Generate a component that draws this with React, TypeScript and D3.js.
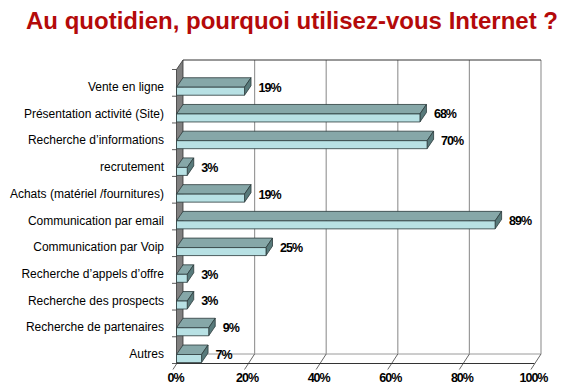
import React from 'react'
import * as d3 from 'd3'

const title = 'Au quotidien, pourquoi utilisez-vous Internet ?'
const categories = [
	'Vente en ligne',
	'Présentation activité (Site)',
	'Recherche d’informations',
	'recrutement',
	'Achats (matériel /fournitures)',
	'Communication par email',
	'Communication par Voip',
	'Recherche d’appels d’offre',
	'Recherche des prospects',
	'Recherche de partenaires',
	'Autres',
]
const values = [19, 68, 70, 3, 19, 89, 25, 3, 3, 9, 7]
const ticks = [0, 20, 40, 60, 80, 100]

const W = 568
const H = 386
// décalage de profondeur (3D)
const dx = 6.5
const dy = 9.5
const front = { left: 176.5, right: 534.5, top: 69.5, bottom: 363.5 }

export default function App() {
	const x = d3.scaleLinear().domain([0, 100]).range([front.left, front.right])
	const y = d3.scaleBand().domain(categories).range([front.top, front.bottom]).padding(0)
	const font = 'Arial, "Liberation Sans", sans-serif'

	const backTop = front.top - dy
	const backBottom = front.bottom - dy

	return (
		<svg width={W} height={H} style={{ position: 'absolute', left: 0, top: 0, background: '#fff' }}>
			<text x={292} y={29} textAnchor="middle" fontFamily={font} fontWeight="bold" fontSize={24} fill="#b40a0a">
				{title}
			</text>

			{/* mur du fond */}
			<rect x={x(0) + dx} y={backTop} width={x(100) - x(0)} height={backBottom - backTop} fill="#fff" />
			{ticks.slice(1).map(t => (
				<line key={t} x1={x(t) + dx} x2={x(t) + dx} y1={backTop} y2={backBottom} stroke="#9a9a9a" strokeWidth={1.2} />
			))}
			<line x1={x(0) + dx} x2={x(100) + dx} y1={backTop} y2={backTop} stroke="#333" strokeWidth={1} />

			{/* sol */}
			<path d={`M${x(0)},${front.bottom}L${x(0) + dx},${backBottom}L${x(100) + dx},${backBottom}L${x(100)},${front.bottom}Z`} fill="#fff" />
			<line x1={x(0) + dx} x2={x(100) + dx} y1={backBottom} y2={backBottom} stroke="#9a9a9a" strokeWidth={1} />
			{ticks.map(t => (
				<line key={t} x1={x(t) + dx} y1={backBottom} x2={x(t) - dx * 0.55} y2={front.bottom + 6} stroke="#555" strokeWidth={0.9} />
			))}
			<line x1={x(0)} x2={x(100)} y1={front.bottom} y2={front.bottom} stroke="#333" strokeWidth={1} />

			{/* mur gauche */}
			<path
				d={`M${x(0)},${front.top}L${x(0) + dx},${backTop}L${x(0) + dx},${backBottom}L${x(0)},${front.bottom}Z`}
				fill="#808080"
				stroke="#333"
				strokeWidth={0.8}
			/>
			{categories.concat(['']).map((c, i) => {
				const yy = front.top + i * y.bandwidth()
				return <line key={i} x1={x(0) - 4.5} x2={x(0)} y1={yy} y2={yy} stroke="#333" strokeWidth={0.8} />
			})}

			{/* barres */}
			{categories.map((c, i) => {
				const bottom = (y(c) as number) + y.bandwidth()
				const y0 = bottom - 9
				const y1 = bottom - 1
				const x0 = x(0)
				const x1 = x(values[i])
				return (
					<g key={c} stroke="#2b3a3b" strokeWidth={0.8} strokeLinejoin="round">
						<path d={`M${x0},${y0}L${x0 + dx},${y0 - dy}L${x1 + dx},${y0 - dy}L${x1},${y0}Z`} fill="#86a7a8" />
						<path d={`M${x1},${y0}L${x1 + dx},${y0 - dy}L${x1 + dx},${y1 - dy}L${x1},${y1}Z`} fill="#587a7b" />
						<rect x={x0} y={y0} width={x1 - x0} height={y1 - y0} fill="#b8e1e4" />
					</g>
				)
			})}

			{/* étiquettes des catégories */}
			{categories.map(c => (
				<text
					key={c}
					x={164}
					y={(y(c) as number) + y.bandwidth() - 9.5}
					dy="0.35em"
					textAnchor="end"
					fontFamily={font}
					fontSize={12}
					fill="#000"
				>
					{c}
				</text>
			))}

			{/* valeurs */}
			{categories.map((c, i) => (
				<text
					key={c}
					x={x(values[i]) + 14}
					y={(y(c) as number) + y.bandwidth() - 9}
					dy="0.35em"
					fontFamily={font}
					fontWeight="bold"
					fontSize={12.5}
					letterSpacing={-1}
					fill="#000"
				>
					{values[i]}%
				</text>
			))}

			{/* axe des x */}
			{ticks.map(t => (
				<text
					key={t}
					x={x(t) - 1}
					y={382}
					textAnchor="middle"
					fontFamily={font}
					fontWeight="bold"
					fontSize={12.5}
					letterSpacing={-1}
					fill="#000"
				>
					{t}%
				</text>
			))}
		</svg>
	)
}
